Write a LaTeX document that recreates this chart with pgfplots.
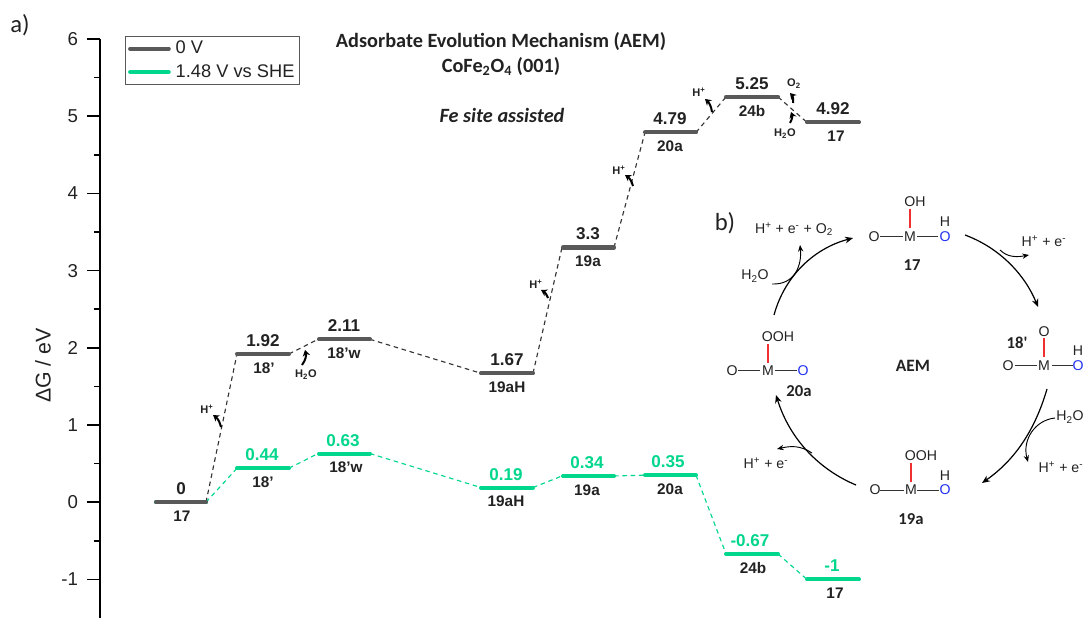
\documentclass[border=0pt]{standalone}
\usepackage{fontspec}
\setmainfont{Liberation Sans}
\newfontfamily\carl{Carlito}
\usepackage{pgfplots}
\pgfplotsset{compat=1.18}
\usetikzlibrary{arrows.meta}
\definecolor{gbar}{HTML}{595959}
\definecolor{gr}{HTML}{00D68C}
\definecolor{txt}{HTML}{222222}
\definecolor{bondred}{HTML}{F03030}
\definecolor{oblue}{HTML}{2030F0}
\newcommand{\fs}[1]{\fontsize{#1pt}{#1pt}\selectfont}
\newcommand{\val}[4]{\node[font=\fs{12.8}\bfseries,text=#4] at (axis cs:#1,#2) [yshift=10pt] {#3};}
\newcommand{\sublab}[3]{\node[font=\fs{11.5}\bfseries,text=txt] at (axis cs:#1,#2) [yshift=-10.5pt] {#3};}
\begin{document}
\begin{tikzpicture}[x=1pt,y=1pt]
\begin{axis}[
  at={(75pt,0pt)},anchor=south west,
  scale only axis,width=741pt,height=434.25pt,
  xmin=100,xmax=1088,ymin=-1.5,ymax=6,
  clip=false,
  axis y line*=left,
  hide x axis,
  axis line style={line width=1.5pt,-,black},
  ytick={-1,0,1,2,3,4,5,6},
  yticklabels={-1,0,1,2,3,4,5,6},
  minor y tick num=1,
  tick align=outside,
  major tick length=9.75pt,minor tick length=4.5pt,
  every tick/.style={black,line width=1.1pt},
  yticklabel style={font=\fs{14},text=txt,inner sep=0pt,xshift=-6.5pt},
  ylabel={\fs{16}ΔG / eV},
  ylabel style={at={(axis description cs:-0.0577,0.436)},anchor=center,text=txt},
  legend style={at={(rel axis cs:0.0253,1.005)},anchor=north west,draw=gbar,line width=0.7pt,
    font=\fs{13.7},text=txt,inner sep=2pt,row sep=3.5pt,
    /tikz/column 1/.style={column sep=2.2pt},
    nodes={inner sep=1.5pt,anchor=west}},
  legend cell align=left,
  legend image code/.code={\draw[#1,line cap=round,line width=3pt] (0pt,0pt)--(29pt,0pt);},
  unbounded coords=jump,
]
\addlegendimage{gbar}\addlegendentry{0 V}
\addlegendimage{gr}\addlegendentry{1.48 V vs SHE}
% connectors, 1.48 V vs SHE
\addplot[forget plot,gr,line width=0.85pt,dash pattern=on 3.4pt off 2.8pt] coordinates {
 (206,0) (237,0.44) (nan,nan) (289,0.44) (318,0.63) (nan,nan) (370,0.63) (481,0.19) (nan,nan)
 (533,0.19) (562,0.34) (nan,nan) (614,0.34) (645,0.35) (nan,nan) (696,0.35) (726,-0.67) (nan,nan)
 (778,-0.67) (807,-1)};
% connectors, 0 V
\addplot[forget plot,gbar!60!black,line width=0.85pt,dash pattern=on 3.4pt off 2.8pt] coordinates {
 (206,0) (237,1.92) (nan,nan) (289,1.92) (318,2.11) (nan,nan) (370,2.11) (481,1.67) (nan,nan)
 (533,1.67) (562,3.3) (nan,nan) (614,3.3) (645,4.79) (nan,nan) (696,4.79) (726,5.25) (nan,nan)
 (778,5.25) (807,4.92)};
% levels, 1.48 V vs SHE
\addplot[forget plot,gr,line width=3pt,line cap=round] coordinates {
 (156,0) (206,0) (nan,nan) (237,0.44) (289,0.44) (nan,nan) (319,0.63) (370,0.63) (nan,nan)
 (481,0.19) (533,0.19) (nan,nan) (563,0.34) (614,0.34) (nan,nan) (645,0.35) (696,0.35) (nan,nan)
 (726,-0.67) (778,-0.67) (nan,nan) (807,-1) (859,-1)};
% levels, 0 V
\addplot[forget plot,gbar,line width=3.1pt,line cap=round] coordinates {
 (156,0) (206,0) (nan,nan) (237,1.92) (289,1.92) (nan,nan) (319,2.11) (370,2.11) (nan,nan)
 (481,1.67) (533,1.67) (nan,nan) (563,3.3) (614,3.3) (nan,nan) (645,4.79) (696,4.79) (nan,nan)
 (726,5.25) (778,5.25) (nan,nan) (807,4.92) (859,4.92)};
\val{181}{0}{0}{txt}\sublab{182}{0}{17}
\val{263}{1.92}{1.92}{txt}\sublab{264}{1.92}{18'}
\val{344}{2.11}{2.11}{txt}\sublab{344}{2.11}{18'w}
\val{507}{1.67}{1.67}{txt}\sublab{507}{1.67}{19aH}
\val{588}{3.3}{3.3}{txt}\sublab{588}{3.3}{19a}
\val{670}{4.79}{4.79}{txt}\sublab{670}{4.79}{20a}
\val{752}{5.25}{5.25}{txt}\sublab{752}{5.25}{24b}
\val{833}{4.92}{4.92}{txt}\sublab{836}{4.92}{17}
\val{262}{0.44}{0.44}{gr}\sublab{263}{0.44}{18'}
\val{343}{0.63}{0.63}{gr}\sublab{346}{0.63}{18'w}
\val{506}{0.19}{0.19}{gr}\sublab{506}{0.19}{19aH}
\val{587}{0.34}{0.34}{gr}\sublab{587}{0.34}{19a}
\val{668}{0.35}{0.35}{gr}\sublab{670}{0.35}{20a}
\val{750}{-0.67}{-0.67}{gr}\sublab{753}{-0.67}{24b}
\val{832}{-1}{-1}{gr}\sublab{835}{-1}{17}
\end{axis}
\begin{scope}[x=0.75pt,y=-0.75pt,shift={(0pt,463.5pt)},text=txt]
 \node[font=\carl\fs{18.5}] at (20,25) {a)};
 \node[font=\carl\fs{18.5}] at (725,223) {b)};
 \node[font=\carl\fs{15.2}\bfseries] at (501,42) {Adsorbate Evolution Mechanism (AEM)};
 \node[font=\carl\fs{15.2}\bfseries] at (501,67) {CoFe\textsubscript{2}O\textsubscript{4} (001)};
 \node[font=\carl\fs{15.2}\bfseries\itshape] at (502,115) {Fe site assisted};
 % small arrows on the profile
 \tikzset{sa/.style={black,line width=1.5pt,-{Stealth[length=4.5pt,width=5.5pt]}},
   st/.style={font=\fs{8.3}\bfseries,inner sep=0pt}}
 \node[st] at (207,409) {H\textsuperscript{+}};
 \draw[sa] (221,427) to[bend right=20] (213,415);
 \node[st] at (306,375) {H\textsubscript{2}O};
 \draw[sa] (302,365) to[bend right=25] (305,350);
 \node[st] at (536,284) {H\textsuperscript{+}};
 \draw[sa] (548,298) to[bend right=20] (541,290);
 \node[st] at (619,170) {H\textsuperscript{+}};
 \draw[sa] (633,186) to[bend right=20] (625,175);
 \node[st] at (699,92) {H\textsuperscript{+}};
 \draw[sa] (712,112) to[bend right=20] (705,99);
 \node[st] at (794,84) {O\textsubscript{2}};
 \draw[sa] (793,103) to[bend right=25] (790,93);
 \node[st] at (785,134) {H\textsubscript{2}O};
 \draw[sa] (790,123) to[bend right=25] (791,112);
 % scheme b)
 \tikzset{atm/.style={font=\fs{10.6},inner sep=0pt,text=txt},
   bd/.style={black!80,line width=0.7pt},
   rb/.style={bondred,line width=0.9pt},
   lb/.style={font=\carl\fs{12.5}\bfseries,inner sep=0pt},
   cv/.style={black,line width=0.9pt,-{Stealth[length=6pt,width=5pt]}},
   brn/.style={black,line width=0.7pt,-{Stealth[length=5pt,width=4pt]}}}
 % 17
 \node[atm] at (915,202) {OH}; \node[atm] at (910,237) {M}; \node[atm] at (874,237) {O};
 \node[atm,text=oblue] at (945,237) {O}; \node[atm] at (945,222) {H};
 \draw[bd] (880,236)--(903,236); \draw[bd] (917,236)--(938,236); \draw[rb] (910,209)--(910,228);
 \node[lb] at (912,265) {17};
 % 18'
 \node[atm] at (1044,332) {O}; \node[atm] at (1044,366) {M}; \node[atm] at (1008,366) {O};
 \node[atm,text=oblue] at (1078,366) {O}; \node[atm] at (1078,351) {H};
 \draw[bd] (1015,365)--(1037,365); \draw[bd] (1052,365)--(1073,365); \draw[rb] (1044,338)--(1044,357);
 \node[lb] at (1017,343) {18'};
 % 19a
 \node[atm] at (921,456) {OOH}; \node[atm] at (911,490) {M}; \node[atm] at (875,490) {O};
 \node[atm,text=oblue] at (945,490) {O}; \node[atm] at (945,476) {H};
 \draw[bd] (880,490)--(904,490); \draw[bd] (917,490)--(939,490); \draw[rb] (911,463)--(911,482);
 \node[lb] at (911,519) {19a};
 % 20a
 \node[atm] at (778,337) {OOH}; \node[atm] at (768,371) {M}; \node[atm] at (732,371) {O};
 \node[atm,text=oblue] at (803,371) {O};
 \draw[bd] (738,370)--(760,370); \draw[bd] (775,370)--(797,370); \draw[rb] (768,344)--(768,363);
 \node[lb] at (799,391) {20a};
 \node[font=\carl\fs{13}\bfseries] at (913,366) {AEM};
 \node[atm] at (1044,241) {H\textsuperscript{+} + e\textsuperscript{-}};
 \node[atm] at (794,229) {H\textsuperscript{+} + e\textsuperscript{-} + O\textsubscript{2}};
 \node[atm] at (755,276) {H\textsubscript{2}O};
 \node[atm] at (1070,417) {H\textsubscript{2}O};
 \node[atm] at (1061,467) {H\textsuperscript{+} + e\textsuperscript{-}};
 \node[atm] at (766,463) {H\textsuperscript{+} + e\textsuperscript{-}};
 \draw[cv] (965,235) .. controls (1000,248) and (1025,275) .. (1038,307);
 \draw[brn] (1000,250) .. controls (1008,258) and (1018,257) .. (1029,255);
 \draw[cv] (1047,389) .. controls (1035,430) and (1015,460) .. (982,483);
 \draw[brn] (1055,418) .. controls (1035,420) and (1022,440) .. (1028,462);
 \draw[cv] (856,485) .. controls (820,470) and (790,440) .. (776,395);
 \draw[brn] (812,453) .. controls (800,445) and (790,446) .. (777,449);
 \draw[cv] (774,315) .. controls (785,275) and (815,248) .. (853,238);
 \draw[brn] (772,284) .. controls (795,285) and (802,265) .. (800,245);
\end{scope}
\pgfresetboundingbox
\path (0pt,0pt) rectangle (816pt,463.5pt);
\end{tikzpicture}
\end{document}
